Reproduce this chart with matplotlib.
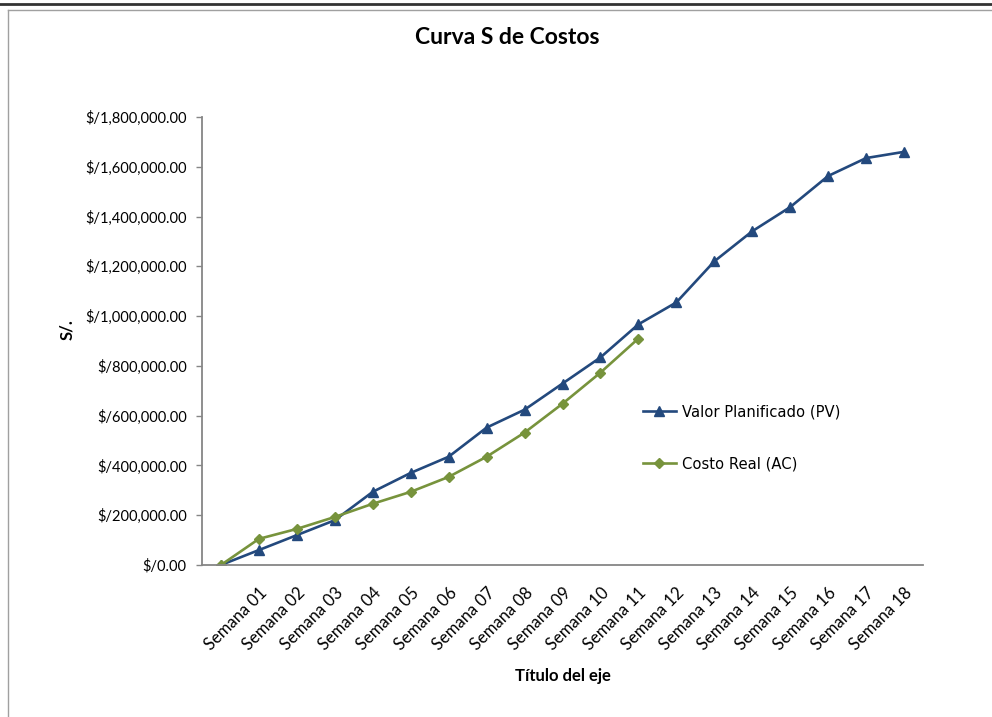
import matplotlib
matplotlib.use('Agg')
import matplotlib.pyplot as plt
from matplotlib.lines import Line2D
from matplotlib.ticker import FuncFormatter

# Datos de la curva S
semanas = [''] + ['Semana {:02d}'.format(i) for i in range(1, 19)]
pv = [0, 60000, 120000, 180000, 294000, 370000, 435000, 552000, 624000,
      729000, 834000, 967000, 1055000, 1220000, 1341000, 1438000, 1563000,
      1635000, 1660000]
ac = [0, 105000, 145000, 193000, 246000, 294000, 354000, 435000, 532000,
      648000, 773000, 910000]

plt.rcParams['font.family'] = ['Lato', 'DejaVu Sans']

fig = plt.figure(figsize=(9.92, 7.17), dpi=100)
ax = fig.add_axes([202 / 992, 1 - 565 / 717, 721 / 992, 448 / 717])

azul = '#23497d'
verde = '#77933c'
gris = '#868686'

ax.plot(range(len(pv)), pv, color=azul, lw=1.9, marker='^', ms=7,
        label='Valor Planificado (PV)')
ax.plot(range(len(ac)), ac, color=verde, lw=1.9, marker='D', ms=5,
        label='Costo Real (AC)')

ax.set_xlim(-0.5, len(semanas) - 0.5)
ax.set_ylim(0, 1800000)
ax.set_yticks(range(0, 1800001, 200000))
ax.yaxis.set_major_formatter(FuncFormatter(lambda v, p: '$/{:,.2f}'.format(v)))
ax.tick_params(axis='y', length=4, width=1, color=gris, pad=7, labelsize=10.5)

ax.set_xticks(range(len(semanas)))
ax.set_xticklabels(semanas, rotation=45, ha='right', va='top',
                   rotation_mode='anchor', fontsize=12)
ax.tick_params(axis='x', length=0, pad=14)

for s in ['top', 'right']:
    ax.spines[s].set_visible(False)
for s in ['left', 'bottom']:
    ax.spines[s].set_color(gris)
    ax.spines[s].set_linewidth(1.3)

fig.text(507 / 992, 1 - 38 / 717, 'Curva S de Costos', fontsize=16.5,
         fontweight='bold', ha='center', va='center')

ax.set_ylabel('S/.', fontsize=12, fontweight='bold')
ax.yaxis.set_label_coords((75 - 202) / 721, (565 - 330) / 448)
ax.set_xlabel('Título del eje', fontsize=12, fontweight='bold')
ax.xaxis.set_label_coords(0.5, -(668 - 565) / 448)

ax.legend(loc='center left', bbox_to_anchor=((630 - 202) / 721, (565 - 438) / 448),
          frameon=False, handlelength=2.2, labelspacing=2.5,
          prop={'family': 'DejaVu Sans', 'size': 10.6}, handletextpad=0.4)

# borde del grafico
fig.add_artist(Line2D([0, 1], [1 - 4 / 717, 1 - 4 / 717], color='#333333', lw=2))
fig.add_artist(Line2D([8 / 992, 1], [1 - 10 / 717, 1 - 10 / 717], color='#a0a0a0', lw=1))
fig.add_artist(Line2D([8 / 992, 8 / 992], [0, 1 - 10 / 717], color='#a0a0a0', lw=1))

fig.savefig('out.png', dpi=100)
